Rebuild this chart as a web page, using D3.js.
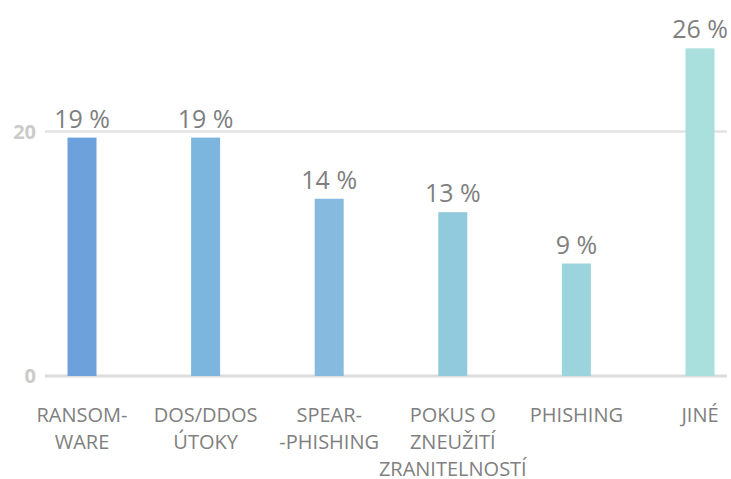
<!DOCTYPE html>
<html>
<head>
    <meta charset="utf-8">
    <title>Typy útoků</title>
    <script src="https://d3js.org/d3.v7.min.js"></script>
    <style>
        body { margin: 0; background: #fff; }
        text { font-family: "Open Sans", Lato, sans-serif; }
    </style>
</head>
<body>
<script>
    // data
    var categories = [
        ["RANSOM-", "WARE"],
        ["DOS/DDOS", "ÚTOKY"],
        ["SPEAR-", "-PHISHING"],
        ["POKUS O", "ZNEUŽITÍ", "ZRANITELNOSTÍ"],
        ["PHISHING"],
        ["JINÉ"]
    ];
    var values = [19.5, 19.5, 14.5, 13.4, 9.2, 26.8];
    var valueLabels = ["19 %", "19 %", "14 %", "13 %", "9 %", "26 %"];
    var yTicks = [0, 20];
    var colors = ["#6ca1db", "#7cb5de", "#86badf", "#91c9dd", "#9bd4dc", "#a9dfdc"];

    var w = 731, h = 479;
    var svg = d3.select("body").append("svg")
                .attr("width", w)
                .attr("height", h);

    // bar centres go from ~82 to ~700
    var x = d3.scalePoint()
              .domain(d3.range(values.length))
              .range([82, 700]);
    var barW = 29;

    var y = d3.scaleLinear()
              .domain([0, 20])
              .range([376, 131.5]);

    // grid lines
    svg.selectAll("line.grid")
       .data(yTicks)
       .enter()
       .append("line")
       .attr("class", "grid")
       .attr("x1", 45)
       .attr("x2", 727)
       .attr("y1", function(d){ return y(d); })
       .attr("y2", function(d){ return y(d); })
       .attr("stroke", function(d){ return d == 0 ? "#dcdcdc" : "#e3e3e3"; })
       .attr("stroke-width", function(d){ return d == 0 ? 3 : 2.5; });

    // y tick labels
    svg.selectAll("text.ytick")
       .data(yTicks)
       .enter()
       .append("text")
       .attr("class", "ytick")
       .attr("x", 36)
       .attr("y", function(d){ return y(d) + 7; })
       .attr("text-anchor", "end")
       .attr("fill", "#cbcbcb")
       .attr("font-size", 20)
       .attr("font-weight", "bold")
       .text(function(d){ return d; });

    // bars
    svg.selectAll("rect.bar")
       .data(values)
       .enter()
       .append("rect")
       .attr("class", "bar")
       .attr("x", function(d, i){ return x(i) - barW / 2; })
       .attr("y", function(d){ return y(d); })
       .attr("width", barW)
       .attr("height", function(d){ return y(0) - y(d); })
       .attr("fill", function(d, i){ return colors[i]; });

    // value labels
    svg.selectAll("text.val")
       .data(values)
       .enter()
       .append("text")
       .attr("class", "val")
       .attr("x", function(d, i){ return x(i); })
       .attr("y", function(d){ return y(d) - 10; })
       .attr("text-anchor", "middle")
       .attr("fill", "#7f7f7f")
       .attr("font-size", 25)
       .text(function(d, i){ return valueLabels[i]; });

    // category labels (multi line)
    var cat = svg.selectAll("text.cat")
       .data(categories)
       .enter()
       .append("text")
       .attr("class", "cat")
       .attr("text-anchor", "middle")
       .attr("fill", "#808080")
       .attr("font-size", 20);
    cat.selectAll("tspan")
       .data(function(d, i){ return d.map(function(s){ return {s: s, i: i}; }); })
       .enter()
       .append("tspan")
       .attr("x", function(d){ return x(d.i); })
       .attr("y", function(d, j){ return 422 + j * 27; })
       .text(function(d){ return d.s; });
</script>
</body>
</html>
